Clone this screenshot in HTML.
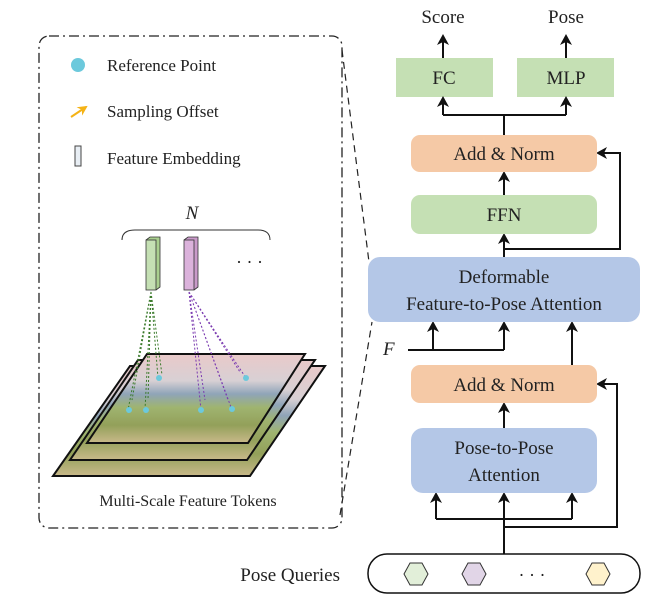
<!DOCTYPE html>
<html><head><meta charset="utf-8"><style>html,body{margin:0;padding:0;background:#fff}svg{display:block}text{font-family:"Liberation Serif",serif;fill:#222}</style></head><body>
<svg width="659" height="601" viewBox="0 0 659 601" xmlns="http://www.w3.org/2000/svg">
<defs>
<marker id="a" markerWidth="11" markerHeight="12" refX="9" refY="6" orient="auto" markerUnits="userSpaceOnUse"><path d="M0,0 L11,6 L0,12 L3,6 Z" fill="#111"/></marker>
<marker id="o" markerWidth="10" markerHeight="10" refX="8" refY="5" orient="auto" markerUnits="userSpaceOnUse"><path d="M0,0 L10,5 L0,10 L3,5 Z" fill="#f5b316"/></marker>
<linearGradient id="img" x1="0" y1="0" x2="0" y2="1"><stop offset="0" stop-color="#e9c9c9"/><stop offset="0.3" stop-color="#d8d0d4"/><stop offset="0.45" stop-color="#8fa4b8"/><stop offset="0.6" stop-color="#9fb470"/><stop offset="0.8" stop-color="#93a05a"/><stop offset="1" stop-color="#c9b98a"/></linearGradient>
</defs>
<rect x="39" y="36" width="303" height="492" rx="10" fill="none" stroke="#222" stroke-width="1.3" stroke-dasharray="10,4,2,4"/>
<line x1="342" y1="50" x2="369" y2="262" stroke="#222" stroke-width="1.2" stroke-dasharray="7,5"/>
<line x1="340" y1="515" x2="372" y2="322" stroke="#222" stroke-width="1.2" stroke-dasharray="7,5"/>
<circle cx="78" cy="65" r="7" fill="#6cc9dc"/>
<text x="107" y="71" font-size="17">Reference Point</text>
<line x1="71" y1="117" x2="86" y2="107" stroke="#f5b316" stroke-width="2" marker-end="url(#o)"/>
<text x="107" y="117" font-size="17">Sampling Offset</text>
<rect x="75" y="146" width="6" height="20" fill="#e8eef4" stroke="#444" stroke-width="1"/>
<text x="107" y="164" font-size="17">Feature Embedding</text>
<text x="192" y="219" font-size="19" font-style="italic" text-anchor="middle">N</text>
<path d="M122,240 Q122,230 135,230 L258,230 Q270,230 270,240" fill="none" stroke="#333" stroke-width="1"/>
<path d="M146,240 l4,-3 h10 v50 l-4,3" fill="#a9cf8f" stroke="#333" stroke-width="0.8"/>
<rect x="146" y="240" width="10" height="50" fill="#c5e0b4" stroke="#333" stroke-width="0.8"/>
<path d="M184,240 l4,-3 h10 v50 l-4,3" fill="#c99ac9" stroke="#333" stroke-width="0.8"/>
<rect x="184" y="240" width="10" height="50" fill="#dbb2db" stroke="#333" stroke-width="0.8"/>
<text x="236" y="268" font-size="18">· · ·</text>
<polygon points="130,366 325,366 250,476 53,476" fill="url(#img)" stroke="#111" stroke-width="2"/>
<polygon points="138,360 315,360 247,460 70,460" fill="url(#img)" stroke="#111" stroke-width="2"/>
<polygon points="147,354 305,354 248,443 87,443" fill="url(#img)" stroke="#111" stroke-width="2"/>
<g stroke="#3a7a2a" stroke-width="1" stroke-dasharray="2,2" fill="none">
<path d="M151,292 L128,410 M151,292 L145,410 M151,292 L158,378 M151,292 L132,400 M151,292 L148,400 M151,292 L162,375"/>
</g>
<g stroke="#7a3ab0" stroke-width="1" stroke-dasharray="2,2" fill="none">
<path d="M189,292 L201,410 M189,292 L232,410 M189,292 L246,378 M189,292 L205,400 M189,292 L228,400 M189,292 L240,372"/>
</g>
<g fill="#6cc9dc"><circle cx="129" cy="410" r="3"/><circle cx="146" cy="410" r="3"/><circle cx="159" cy="378" r="3"/><circle cx="201" cy="410" r="3"/><circle cx="232" cy="409" r="3"/><circle cx="246" cy="378" r="3"/></g>
<text x="188" y="506" font-size="16" text-anchor="middle">Multi-Scale Feature Tokens</text>
<text x="443" y="23" font-size="19" text-anchor="middle">Score</text>
<text x="566" y="23" font-size="19" text-anchor="middle">Pose</text>
<rect x="396" y="58" width="97" height="39" fill="#c5e0b4"/>
<rect x="517" y="58" width="97" height="39" fill="#c5e0b4"/>
<text x="444" y="84" font-size="19" text-anchor="middle">FC</text>
<text x="566" y="84" font-size="19" text-anchor="middle">MLP</text>
<g stroke="#111" stroke-width="2" fill="none">
<line x1="443" y1="58" x2="443" y2="36" marker-end="url(#a)"/>
<line x1="566" y1="58" x2="566" y2="36" marker-end="url(#a)"/>
<polyline points="504,135 504,115"/>
<polyline points="443,115 566,115"/>
<line x1="443" y1="115" x2="443" y2="98" marker-end="url(#a)"/>
<line x1="566" y1="115" x2="566" y2="98" marker-end="url(#a)"/>
<line x1="504" y1="195" x2="504" y2="173" marker-end="url(#a)"/>
<line x1="504" y1="257" x2="504" y2="235" marker-end="url(#a)"/>
<polyline points="504,249 620,249 620,153 598,153" marker-end="url(#a)"/>
<polyline points="408,350 504,350"/>
<line x1="433" y1="350" x2="433" y2="323" marker-end="url(#a)"/>
<line x1="504" y1="350" x2="504" y2="323" marker-end="url(#a)"/>
<line x1="572" y1="365" x2="572" y2="323" marker-end="url(#a)"/>
<line x1="504" y1="428" x2="504" y2="404" marker-end="url(#a)"/>
<polyline points="436,519 572,519"/>
<line x1="436" y1="519" x2="436" y2="494" marker-end="url(#a)"/>
<line x1="504" y1="554" x2="504" y2="494" marker-end="url(#a)"/>
<line x1="572" y1="519" x2="572" y2="494" marker-end="url(#a)"/>
<polyline points="504,527 617,527 617,384 598,384" marker-end="url(#a)"/>
</g>
<rect x="411" y="135" width="186" height="37" rx="9" fill="#f5c9a6"/>
<text x="504" y="160" font-size="19" text-anchor="middle">Add &amp; Norm</text>
<rect x="411" y="195" width="186" height="39" rx="9" fill="#c5e0b4"/>
<text x="504" y="221" font-size="19" text-anchor="middle">FFN</text>
<rect x="368" y="257" width="272" height="65" rx="12" fill="#b4c7e7"/>
<text x="504" y="283" font-size="19" text-anchor="middle">Deformable</text>
<text x="504" y="310" font-size="19" text-anchor="middle">Feature-to-Pose Attention</text>
<text x="383" y="355" font-size="19" font-style="italic">F</text>
<rect x="411" y="365" width="186" height="38" rx="9" fill="#f5c9a6"/>
<text x="504" y="391" font-size="19" text-anchor="middle">Add &amp; Norm</text>
<rect x="411" y="428" width="186" height="65" rx="12" fill="#b4c7e7"/>
<text x="504" y="454" font-size="19" text-anchor="middle">Pose-to-Pose</text>
<text x="504" y="481" font-size="19" text-anchor="middle">Attention</text>
<text x="340" y="581" font-size="19" text-anchor="end">Pose Queries</text>
<rect x="368" y="554" width="272" height="39" rx="19" fill="#fff" stroke="#111" stroke-width="1.5"/>
<polygon points="404,574 410,563 422,563 428,574 422,585 410,585" fill="#e2efd9" stroke="#333"/>
<polygon points="462,574 468,563 480,563 486,574 480,585 468,585" fill="#e1d5e7" stroke="#333"/>
<polygon points="586,574 592,563 604,563 610,574 604,585 592,585" fill="#fff2cc" stroke="#333"/>
<text x="532" y="581" font-size="18" text-anchor="middle">· · ·</text>
</svg>
</body></html>
